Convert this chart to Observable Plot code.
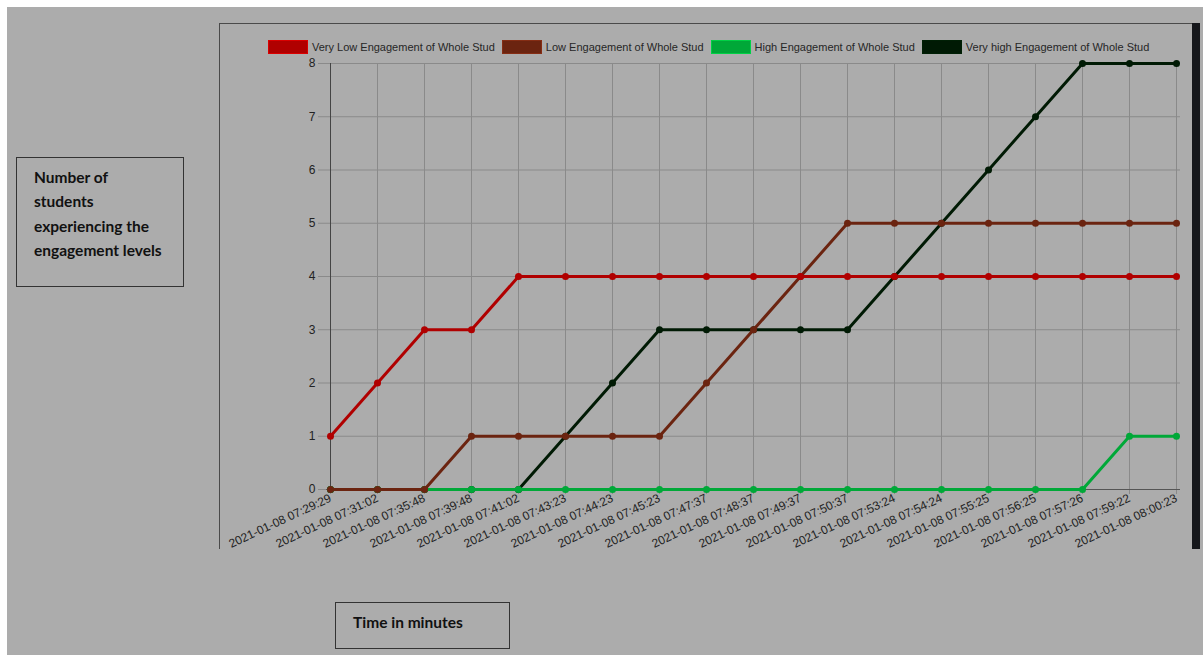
<!DOCTYPE html>
<html>
<head>
<meta charset="utf-8">
<script src="https://cdn.jsdelivr.net/npm/d3@7"></script>
<script src="https://cdn.jsdelivr.net/npm/@observablehq/plot@0.6"></script>
<style>
  html, body { margin: 0; padding: 0; background: #ffffff; width: 1203px; height: 655px; overflow: hidden; }
  #bg { position: absolute; left: 7px; top: 7px; width: 1196px; height: 648px; background: #acacac; }
  #panel { position: absolute; left: 219px; top: 23px; width: 972px; height: 525px; border-top: 1px solid #4a4a4a; border-left: 1px solid #4a4a4a; }
  #bar { position: absolute; left: 1192px; top: 23px; width: 8px; height: 526px; background: #15171b; }
  #chart { position: absolute; left: 219px; top: 23px; }
  #legend { position: absolute; left: 268px; top: 40px; display: flex; align-items: center; white-space: nowrap; font-family: "Liberation Sans", Arial, sans-serif; font-size: 11px; color: #262626; }
  .item { display: flex; align-items: center; margin-right: 7px; white-space: nowrap; flex: none; }
  .swatch { width: 40px; height: 14px; margin-right: 4px; flex: none; box-sizing: border-box; }
  .box { position: absolute; border: 1px solid #333; box-sizing: border-box; font-family: Lato, "Open Sans", sans-serif; font-weight: bold; font-size: 15.5px; color: #111; }
  #ylab { left: 16px; top: 157px; width: 168px; height: 130px; padding: 7px 0 0 17px; line-height: 24.4px; }
  #xlab { left: 335px; top: 602px; width: 175px; height: 47px; padding: 7px 0 0 17px; line-height: 24px; }
</style>
</head>
<body>
<div id="bg"></div>
<div id="panel"></div>
<div id="bar"></div>
<div id="chart"></div>
<div id="legend"></div>
<div class="box" id="ylab">Number of<br>students<br>experiencing the<br>engagement levels</div>
<div class="box" id="xlab">Time in minutes</div>
<script>
const times = [
  "2021-01-08 07:29:29", "2021-01-08 07:31:02", "2021-01-08 07:35:48", "2021-01-08 07:39:48",
  "2021-01-08 07:41:02", "2021-01-08 07:43:23", "2021-01-08 07:44:23", "2021-01-08 07:45:23",
  "2021-01-08 07:47:37", "2021-01-08 07:48:37", "2021-01-08 07:49:37", "2021-01-08 07:50:37",
  "2021-01-08 07:53:24", "2021-01-08 07:54:24", "2021-01-08 07:55:25", "2021-01-08 07:56:25",
  "2021-01-08 07:57:26", "2021-01-08 07:59:22", "2021-01-08 08:00:23"
];
const seriesNames = [
  "Very Low Engagement of Whole Stud",
  "Low Engagement of Whole Stud",
  "High Engagement of Whole Stud",
  "Very high Engagement of Whole Stud"
];
const seriesColors = ["#b00000", "#6b2410", "#00a838", "#001a04"];
const veryLow  = [1, 2, 3, 3, 4, 4, 4, 4, 4, 4, 4, 4, 4, 4, 4, 4, 4, 4, 4];
const low      = [0, 0, 0, 1, 1, 1, 1, 1, 2, 3, 4, 5, 5, 5, 5, 5, 5, 5, 5];
const high     = [0, 0, 0, 0, 0, 0, 0, 0, 0, 0, 0, 0, 0, 0, 0, 0, 0, 1, 1];
const veryHigh = [0, 0, 0, 0, 0, 1, 2, 3, 3, 3, 3, 3, 4, 5, 6, 7, 8, 8, 8];
const yTicks = [0, 1, 2, 3, 4, 5, 6, 7, 8];

const allValues = [veryLow, low, high, veryHigh];
const rows = allValues.map((vals, k) => times.map((t, i) => ({ t, v: vals[i], s: seriesNames[k] })));

// Draw order: last series at bottom, first on top (Chart.js style)
const order = [3, 2, 1, 0];
const seriesMarks = order.flatMap(k => [
  Plot.line(rows[k], { x: "t", y: "v", stroke: seriesColors[k], strokeWidth: 3, curve: "linear", strokeLinejoin: "round" }),
  Plot.dot(rows[k], { x: "t", y: "v", fill: seriesColors[k], r: 3.5, stroke: null })
]);

const chart = Plot.plot({
  width: 975,
  height: 527,
  marginLeft: 107,
  marginRight: 14,
  marginTop: 40,
  marginBottom: 61,
  style: { background: "transparent", fontFamily: "'Liberation Sans', Arial, sans-serif", fontSize: "12px", color: "#333" },
  x: { type: "point", domain: times, padding: 0, label: null },
  y: { domain: [0, 8], label: null },
  marks: [
    Plot.gridX(times, { stroke: "#8a8a8a", strokeOpacity: 1, strokeWidth: 1 }),
    Plot.gridY(yTicks, { stroke: "#8a8a8a", strokeOpacity: 1, strokeWidth: 1 }),
    Plot.axisX(times, { tickRotate: -25, tickSize: 5, tickPadding: 3, stroke: "#8a8a8a", fill: "#222", label: null }),
    Plot.axisY(yTicks, { tickSize: 8, tickPadding: 3, stroke: "#8a8a8a", fill: "#222", label: null, tickFormat: d3.format("d") }),
    Plot.ruleX([times[0]], { stroke: "#444" }),
    Plot.ruleY([0], { stroke: "#555" }),
    ...seriesMarks
  ]
});
document.getElementById("chart").appendChild(chart);

const legend = document.getElementById("legend");
seriesNames.forEach((name, k) => {
  const item = document.createElement("div");
  item.className = "item";
  const sw = document.createElement("div");
  sw.className = "swatch";
  sw.style.background = seriesColors[k];
  sw.style.border = "1px solid " + d3.color(seriesColors[k]).brighter(0.6);
  const lab = document.createElement("span");
  lab.textContent = name;
  item.appendChild(sw);
  item.appendChild(lab);
  legend.appendChild(item);
});
</script>
</body>
</html>
